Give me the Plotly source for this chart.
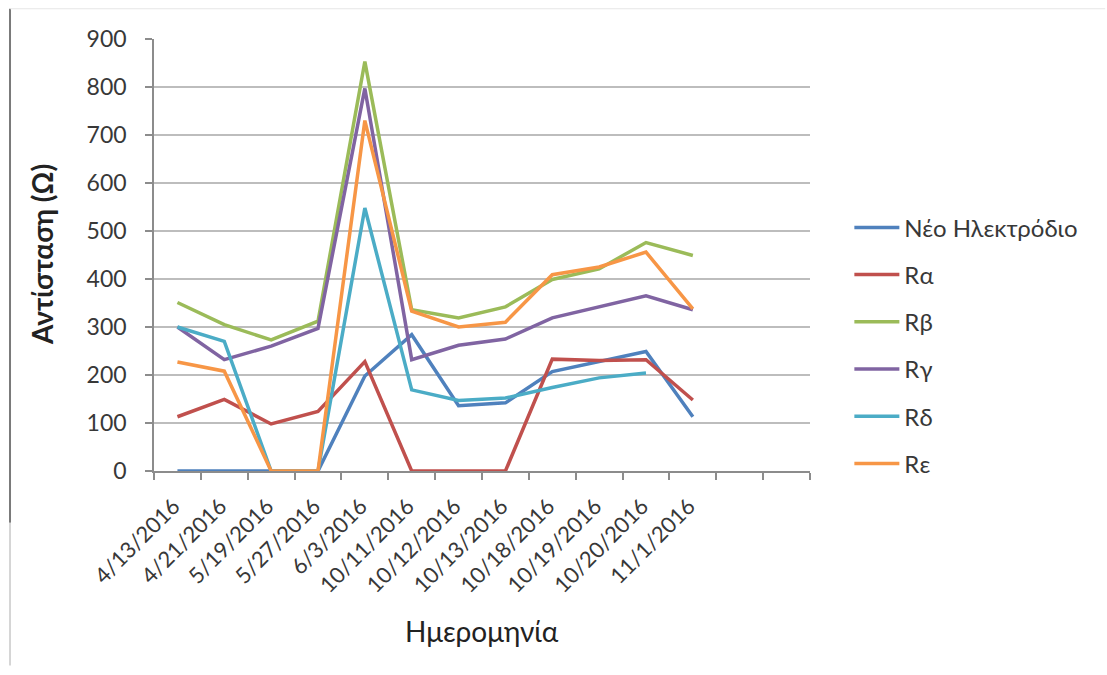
import plotly.graph_objects as go

# Measurement dates (two trailing empty slots keep the category axis open)
dates = ["4/13/2016", "4/21/2016", "5/19/2016", "5/27/2016", "6/3/2016",
         "10/11/2016", "10/12/2016", "10/13/2016", "10/18/2016",
         "10/19/2016", "10/20/2016", "11/1/2016"]
n_slots = 14

# Resistance readings (Ω) per electrode
neo = [0, 0, 0, 0, 198, 284, 136, 142, 207, 228, 249, 113]
r_alpha = [113, 149, 98, 124, 228, 0, 0, 0, 233, 230, 232, 148]
r_beta = [351, 305, 273, 312, 853, 336, 319, 342, 399, 421, 476, 449]
r_gamma = [300, 232, 260, 297, 797, 232, 262, 275, 319, 342, 365, 336]
r_delta = [300, 270, 0, 0, 548, 169, 147, 152, 174, 194, 204, None]
r_eps = [227, 208, 0, 0, 730, 333, 300, 310, 409, 425, 456, 338]

series = [
    ("Νέο Ηλεκτρόδιο", neo, "#4F81BD"),
    ("Rα", r_alpha, "#C0504D"),
    ("Rβ", r_beta, "#9BBB59"),
    ("Rγ", r_gamma, "#8064A2"),
    ("Rδ", r_delta, "#4BACC6"),
    ("Rε", r_eps, "#F79646"),
]

FONT = "Lato"
TXT = "#383838"

fig = go.Figure()
xs = list(range(len(dates)))
for i, (name, vals, color) in enumerate(series):
    fig.add_trace(go.Scatter(
        x=xs, y=vals, name=name, mode="lines",
        line=dict(color=color, width=3.5),
        legendgroup=f"g{i}",
    ))

fig.update_layout(
    width=1107, height=675,
    margin=dict(l=154, r=297, t=39, b=204),
    paper_bgcolor="white", plot_bgcolor="white",
    font=dict(family=FONT, color=TXT, size=22),
    legend=dict(
        x=1.06, xanchor="left", y=0.615, yanchor="top",
        font=dict(family=FONT, size=24, color=TXT),
        traceorder="grouped", tracegroupgap=13,
        itemwidth=45, bgcolor="rgba(0,0,0,0)",
    ),
    xaxis=dict(
        range=[-0.5, n_slots - 0.5],
        tickmode="array", tickvals=xs, ticktext=dates,
        tickangle=-45, ticks="", showgrid=False, zeroline=False,
        showline=True, linecolor="#8c8c8c", linewidth=1.5,
        tickfont=dict(family=FONT, size=22, color=TXT),
        ticklabelstandoff=12, ticklabelshift=-4,
        minor=dict(tickmode="linear", tick0=-0.5, dtick=1, ticks="outside",
                   ticklen=7, tickcolor="#8c8c8c", tickwidth=1.5, showgrid=False),
    ),
    yaxis=dict(
        range=[0, 900], tickvals=list(range(0, 901, 100)),
        showgrid=True, gridcolor="#bdbdbd", gridwidth=1.5,
        zeroline=False, showline=True, linecolor="#8c8c8c", linewidth=1.5,
        ticks="outside", ticklen=7, tickcolor="#8c8c8c", tickwidth=1.5,
        tickfont=dict(family=FONT, size=23, color=TXT),
        ticklabelstandoff=14,
    ),
    annotations=[
        dict(text="Ημερομηνία", xref="paper", yref="paper", x=0.5, y=-0.37,
             xanchor="center", yanchor="middle", showarrow=False,
             font=dict(family=FONT, size=28, color="#222")),
        dict(text="<b>Αντίσταση (Ω)</b>", xref="paper", yref="paper",
             x=-0.1707, y=0.5, xanchor="center", yanchor="middle",
             textangle=-90, showarrow=False,
             font=dict(family=FONT, size=28, color="#222")),
    ],
    shapes=[
        dict(type="line", xref="paper", yref="paper", x0=-0.2195, x1=-0.2195,
             y0=1.07, y1=-0.12, line=dict(color="#7a7a7a", width=2)),
        dict(type="line", xref="paper", yref="paper", x0=-0.2195, x1=-0.2195,
             y0=-0.12, y1=-0.45, line=dict(color="#c8c8c8", width=1.5)),
        dict(type="line", xref="paper", yref="paper", x0=-0.2195, x1=1.45,
             y0=1.07, y1=1.07, line=dict(color="#e6e6e6", width=1)),
    ],
)

fig.write_html("out.html")
